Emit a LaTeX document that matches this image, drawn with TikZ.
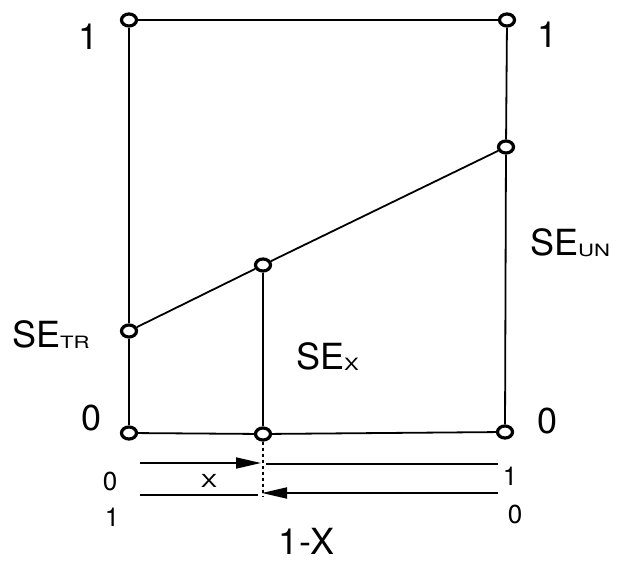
\documentclass[tikz,border=0pt]{standalone}
\usepackage{fontspec}
\setmainfont{TeX Gyre Heros}
\usetikzlibrary{shapes.geometric,arrows.meta}
\begin{document}
\begin{tikzpicture}[x=1pt,y=-1pt,
  pt/.style={draw,ellipse,line width=3.2pt,minimum width=15pt,minimum height=12pt,inner sep=0pt,fill=white},
  ln/.style={line width=1.8pt},
  big/.style={font=\fontsize{36}{36}\selectfont, inner sep=0pt},
  small/.style={font=\fontsize{26}{26}\selectfont, inner sep=0pt},
  tiny/.style={font=\fontsize{18}{18}\selectfont, inner sep=0pt},
  arr/.style={ln,-{Triangle[length=25pt,width=11pt]}}
]
\useasboundingbox[fill=white] (0,0) rectangle (618,561);
\newcommand{\subtxt}[1]{\raisebox{-1pt}{\scalebox{1.3}[1]{\fontsize{17}{17}\selectfont #1}}}
% points
\node[pt] (tl) at (129,20) {};
\node[pt] (tr) at (507,20) {};
\node[pt] (un) at (506,147) {};
\node[pt] (br) at (505,432) {};
\node[pt] (bl) at (129,433) {};
\node[pt] (tr0) at (129,331) {};
\node[pt] (sx) at (263,265) {};
\node[pt] (bm) at (263,434) {};
% connectors
\draw[ln] (tl) -- (tr);
\draw[ln] (tl) -- (tr0);
\draw[ln] (tr0) -- (bl);
\draw[ln] (bl) -- (bm);
\draw[ln] (bm) -- (br);
\draw[ln] (br) -- (un);
\draw[ln] (un) -- (tr);
\draw[ln] (tr0) -- (sx);
\draw[ln] (sx) -- (un);
\draw[ln] (sx) -- (bm);
% labels
\node[big] (l1a) at (89,37) {1};
\node[big] (l1b) at (548,35) {1};
\node[big] (l0a) at (92,418) {0};
\node[big] (l0b) at (548,421) {0};
\node[big,anchor=base west] (setr) at (12,347) {SE\subtxt{TR}};
\node[big,anchor=base west] (seun) at (530,256) {SE\subtxt{UN}};
\node[big,anchor=base west] (sexl) at (296,369) {SE\subtxt{X}};
% bottom arrows
\coordinate (a1) at (140,463);
\coordinate (a2) at (261,463);
\coordinate (b1) at (266,464);
\coordinate (b2) at (498,464);
\coordinate (c1) at (140,495);
\coordinate (c2) at (258,495);
\coordinate (d1) at (498,493);
\coordinate (d2) at (262,493);
\coordinate (dv) at (263,497);
\draw[arr] (a1) -- (a2);
\draw[ln] (b1) -- (b2);
\draw[ln] (c1) -- (c2);
\draw[arr] (d1) -- (d2);
\draw[ln,dashed,dash pattern=on 3pt off 3pt] (bm.south) -- (dv);
\node[small] (s0a) at (110,481) {0};
\node[tiny] (sx1) at (209,481) {\scalebox{1.35}[1]{X}};
\node[small] (s1a) at (112,517) {1};
\node[small] (s1b) at (510,476) {1};
\node[small] (s0b) at (515,514) {0};
\node[big] (omx) at (307,541) {1-X};
\end{tikzpicture}
\end{document}
